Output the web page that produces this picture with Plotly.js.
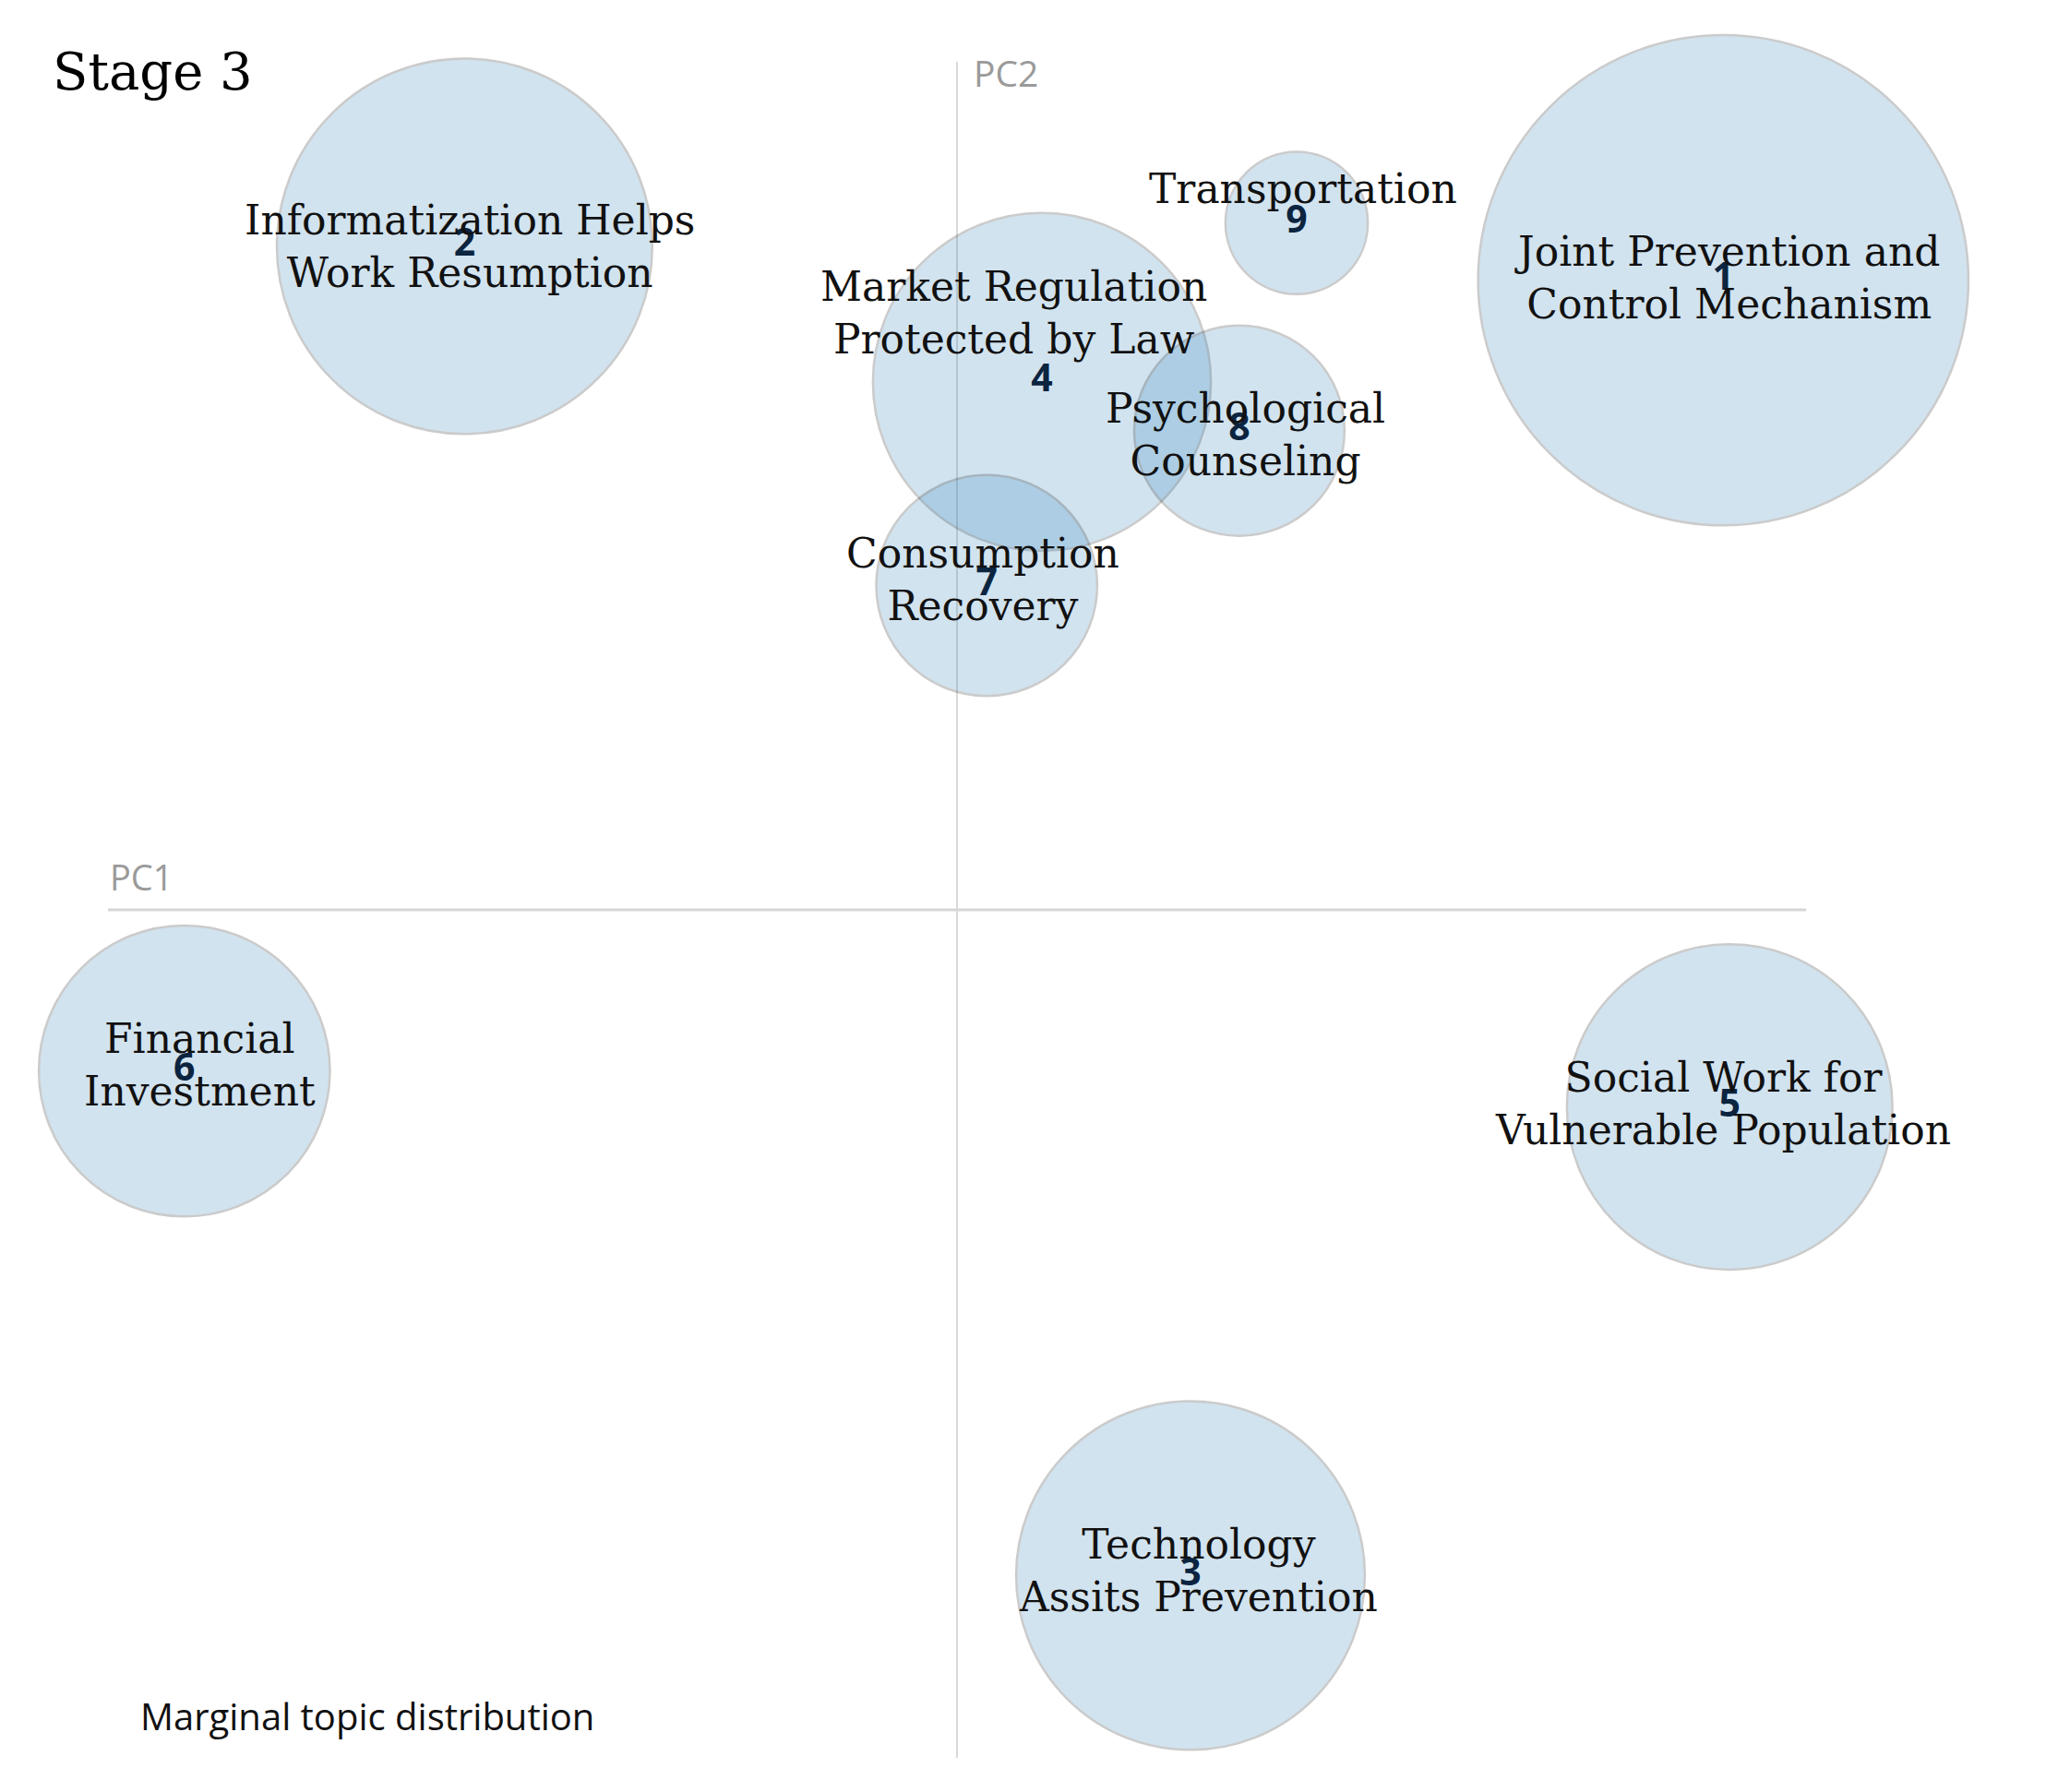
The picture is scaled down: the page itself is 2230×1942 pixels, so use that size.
<!DOCTYPE html>
<html>
<head>
<meta charset="utf-8">
<script src="https://cdn.plot.ly/plotly-3.0.1.min.js"></script>
<style>
  html, body { margin: 0; padding: 0; background: #ffffff; }
  #chart { width: 2230px; height: 1942px; }
</style>
</head>
<body>
<div id="chart"></div>
<script>
// ---- Data ----
const topicIds = [1, 2, 3, 4, 5, 6, 7, 8, 9];
const topicNames = [
  "Joint Prevention and<br>Control Mechanism",
  "Informatization Helps<br>Work Resumption",
  "Technology<br>Assits Prevention",
  "Market Regulation<br>Protected by Law",
  "Social Work for<br>Vulnerable Population",
  "Financial<br>Investment",
  "Consumption<br>Recovery",
  "Psychological<br>Counseling",
  "Transportation"
];
const pc1 = [0.361, -0.232, 0.110, 0.040, 0.364, -0.364, 0.014, 0.133, 0.160];
const pc2 = [0.297, 0.313, -0.314, 0.249, -0.093, -0.076, 0.153, 0.226, 0.324];
const marginalPct = [26.1, 15.3, 13.2, 12.4, 11.5, 9.2, 5.3, 4.8, 2.2];

// ---- Styling ----
const AX = 0.4;                 // symmetric axis half-range
const bubbleScale = 104;        // px diameter per sqrt(percent)
const labelShiftX = [4, 6, 8, -31, -7, 17, -4, 7, 7];
const labelShiftY = [3, 0, 5, 75, 4, 7, 6, -4, 37];
const serif = "DejaVu Serif, Liberation Serif, serif";
const sans = "Open Sans, Noto Sans, Liberation Sans, sans-serif";

const sizes = marginalPct.map(p => bubbleScale * Math.sqrt(p));

const circles = {
  type: "scatter",
  mode: "markers",
  x: pc1,
  y: pc2,
  cliponaxis: false,
  hoverinfo: "skip",
  marker: {
    size: sizes,
    sizemode: "diameter",
    color: "#1f77b4",
    opacity: 0.2,
    line: { color: "#000000", width: 2.5 }
  },
  showlegend: false
};

const numbers = {
  type: "scatter",
  mode: "text",
  x: pc1,
  y: pc2,
  text: topicIds.map(String),
  textposition: "middle center",
  cliponaxis: false,
  hoverinfo: "skip",
  textfont: { family: sans, size: 41, color: "#0b2440", weight: 700 },
  showlegend: false
};

const labelAnnotations = topicNames.map((name, i) => ({
  x: pc1[i], y: pc2[i], xref: "x", yref: "y",
  text: name, showarrow: false,
  xshift: labelShiftX[i], yshift: labelShiftY[i],
  align: "center",
  font: { family: serif, size: 44, color: "#111111" }
}));

const layout = {
  width: 2230,
  height: 1942,
  paper_bgcolor: "#ffffff",
  plot_bgcolor: "#ffffff",
  margin: { l: 117, r: 273, t: 67, b: 37 },
  title: {
    text: "Stage 3",
    xref: "container", yref: "container",
    x: 0.0256, y: 0.960, xanchor: "left", yanchor: "middle",
    font: { family: serif, size: 56, color: "#000000" }
  },
  xaxis: { range: [-AX, AX], visible: false, fixedrange: true },
  yaxis: { range: [-AX, AX], visible: false, fixedrange: true },
  shapes: [
    { type: "line", xref: "x", yref: "y", x0: -AX, x1: AX, y0: 0, y1: 0,
      line: { color: "#d6d6d6", width: 3 }, layer: "below" },
    { type: "line", xref: "x", yref: "y", x0: 0, x1: 0, y0: -AX, y1: AX,
      line: { color: "#d9d9d9", width: 2 }, layer: "below" }
  ],
  annotations: labelAnnotations.concat([
    { xref: "x", yref: "y", x: -AX, y: 0, xanchor: "left", yanchor: "bottom",
      text: "PC1", showarrow: false, yshift: 8,
      font: { family: sans, size: 38, color: "#9a9a9a" } },
    { xref: "x", yref: "y", x: 0, y: AX, xanchor: "left", yanchor: "middle",
      text: "PC2", showarrow: false, xshift: 16, yshift: -11,
      font: { family: sans, size: 39, color: "#9a9a9a" } },
    { xref: "paper", yref: "paper", x: 0, y: 0, xanchor: "left", yanchor: "middle",
      text: "Marginal topic distribution", showarrow: false, xshift: 33, yshift: 46,
      font: { family: sans, size: 40, color: "#111111" } }
  ])
};

Plotly.newPlot("chart", [circles, numbers], layout, { displayModeBar: false, staticPlot: true });
</script>
</body>
</html>
